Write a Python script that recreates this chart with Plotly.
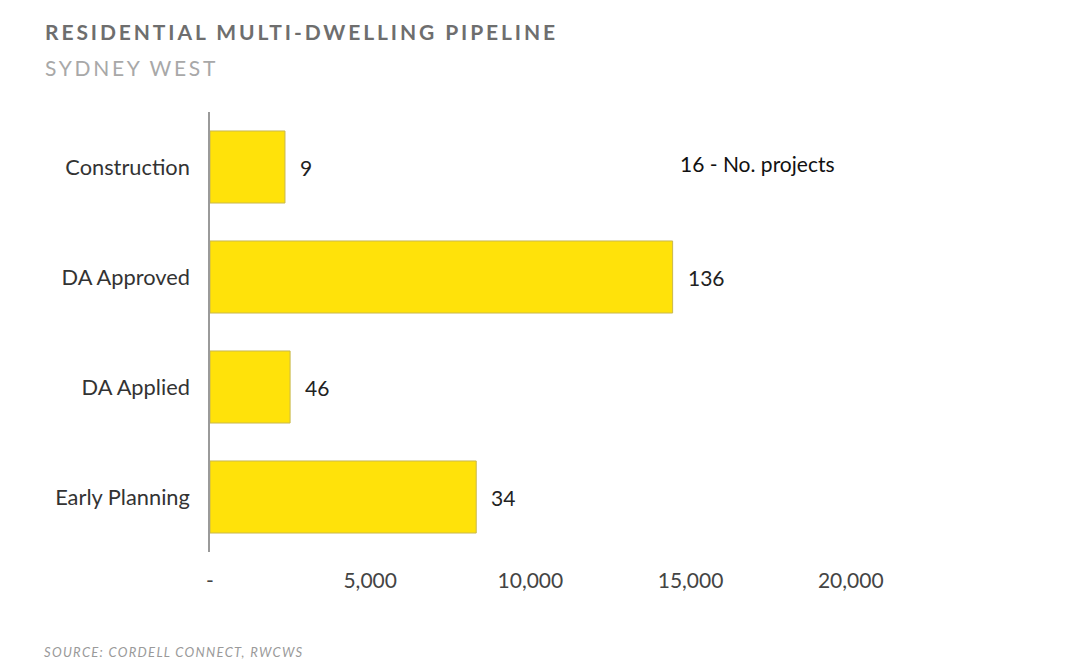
import plotly.graph_objects as go

categories = ["Construction", "DA Approved", "DA Applied", "Early Planning"]
dwellings = [2340, 14440, 2500, 8310]
projects = ["9", "136", "46", "34"]
tick_vals = [0, 5000, 10000, 15000, 20000]
tick_text = ["-", "5,000", "10,000", "15,000", "20,000"]

L, R, T, B = 210, 54, 112, 119
PW = 1080 - L - R
PH = 671 - T - B

def px(x):
    return (x - L) / PW

def py(y):
    return (671 - B - y) / PH

fig = go.Figure()
fig.add_trace(go.Bar(
    y=categories, x=dwellings, orientation="h",
    marker=dict(color="#FFE20A", line=dict(color="#C9B84E", width=1)),
    hoverinfo="skip",
))

for c, v, p in zip(categories, dwellings, projects):
    fig.add_annotation(x=v, y=c, text=p, showarrow=False, xanchor="left",
                       xshift=13, font=dict(family="Lato", size=21, color="#222"))

fig.add_annotation(x=px(678), y=py(163), xref="paper", yref="paper",
                   text="16 - No. projects", showarrow=False, xanchor="left", yanchor="middle",
                   font=dict(family="Lato", size=21, color="#111"))

fig.add_annotation(x=px(43), y=py(32), xref="paper", yref="paper",
                   text="<span style='letter-spacing:2.9px'><b>RESIDENTIAL MULTI-DWELLING PIPELINE</b></span>",
                   showarrow=False, xanchor="left", yanchor="middle",
                   font=dict(family="Lato", size=21, color="#6e6e6e"))
fig.add_annotation(x=px(43), y=py(68), xref="paper", yref="paper",
                   text="<span style='letter-spacing:2.7px'>SYDNEY WEST</span>",
                   showarrow=False, xanchor="left", yanchor="middle",
                   font=dict(family="Lato", size=21, color="#a8a8a8"))
fig.add_annotation(x=px(42), y=py(652), xref="paper", yref="paper",
                   text="<span style='letter-spacing:1.3px'><i>SOURCE: CORDELL CONNECT, RWCWS</i></span>",
                   showarrow=False, xanchor="left", yanchor="middle",
                   font=dict(family="Lato", size=13, color="#9a9a9a"))

fig.update_layout(
    width=1080, height=671,
    margin=dict(l=L, r=R, t=T, b=B),
    paper_bgcolor="white", plot_bgcolor="white",
    showlegend=False, bargap=0.345,
    xaxis=dict(range=[0, 25470], tickvals=tick_vals, ticktext=tick_text,
               showgrid=False, zeroline=False, showline=False,
               ticks="", ticklabelstandoff=14,
               tickfont=dict(family="Lato", size=21, color="#444")),
    yaxis=dict(autorange="reversed", showgrid=False, zeroline=False,
               showline=True, linecolor="#9a9a9a", linewidth=1.5,
               ticks="", ticklabelstandoff=14,
               tickfont=dict(family="Lato", size=21.8, color="#333")),
)

fig.write_html("out.html")
